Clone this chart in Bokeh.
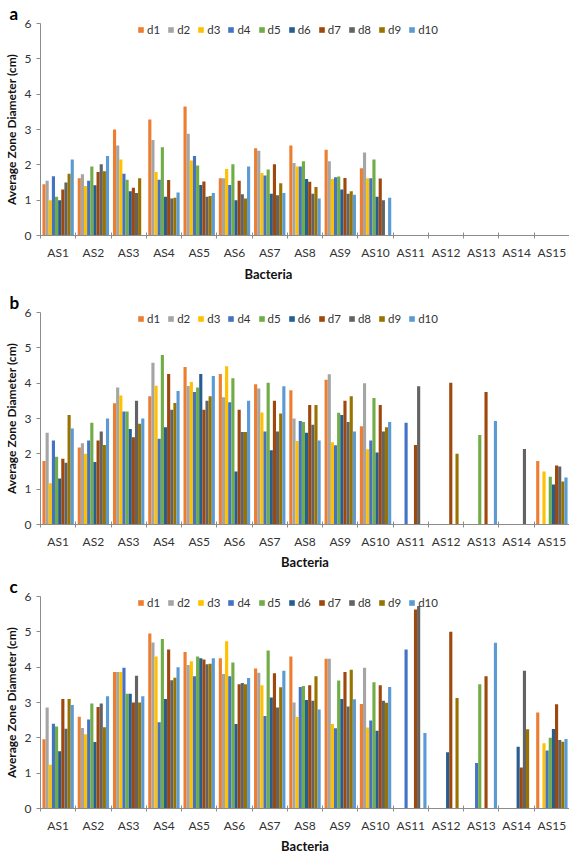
from bokeh.plotting import figure
from bokeh.models import Range1d, FixedTicker, ColumnDataSource, Legend, LegendItem, Title
from bokeh.transform import dodge
from bokeh.layouts import column
from bokeh.embed import file_html
from bokeh.resources import INLINE

CATEGORIES = ["AS1", "AS2", "AS3", "AS4", "AS5", "AS6", "AS7", "AS8",
              "AS9", "AS10", "AS11", "AS12", "AS13", "AS14", "AS15"]
SERIES = ["d1", "d2", "d3", "d4", "d5", "d6", "d7", "d8", "d9", "d10"]
COLORS = ["#ED7D31", "#A5A5A5", "#FFC000", "#4472C4", "#70AD47",
          "#255E91", "#9E480E", "#636363", "#997300", "#5B9BD5"]
Y_TICKS = [0, 1, 2, 3, 4, 5, 6]

# ---- panel a ----
A_D1 = [1.45, 1.62, 3.00, 3.28, 3.65, 1.62, 2.47, 2.55, 2.43, 1.90, 0, 0, 0, 0, 0]
A_D2 = [1.55, 1.73, 2.55, 2.70, 2.88, 1.62, 2.40, 2.05, 2.10, 2.35, 0, 0, 0, 0, 0]
A_D3 = [1.00, 1.40, 2.15, 1.80, 2.12, 1.88, 1.77, 1.95, 1.60, 1.62, 0, 0, 0, 0, 0]
A_D4 = [1.68, 1.55, 1.75, 1.58, 2.25, 1.43, 1.70, 1.95, 1.65, 1.62, 0, 0, 0, 0, 0]
A_D5 = [1.10, 1.95, 1.58, 2.50, 1.98, 2.02, 1.87, 2.10, 1.67, 2.15, 0, 0, 0, 0, 0]
A_D6 = [1.00, 1.42, 1.25, 1.10, 1.43, 1.00, 1.18, 1.60, 1.30, 1.10, 0, 0, 0, 0, 0]
A_D7 = [1.30, 1.80, 1.35, 1.57, 1.53, 1.55, 2.02, 1.52, 1.63, 1.61, 0, 0, 0, 0, 0]
A_D8 = [1.50, 2.02, 1.20, 1.05, 1.10, 1.17, 1.14, 1.18, 1.18, 1.00, 0, 0, 0, 0, 0]
A_D9 = [1.75, 1.82, 1.62, 1.07, 1.12, 1.05, 1.48, 1.37, 1.25, 0, 0, 0, 0, 0, 0]
A_D10 = [2.15, 2.25, 0, 1.22, 1.20, 1.95, 1.20, 1.05, 1.15, 1.07, 0, 0, 0, 0, 0]

# ---- panel b ----
B_D1 = [1.80, 2.18, 3.43, 3.63, 4.46, 4.26, 3.97, 3.80, 4.10, 2.78, 0, 0, 0, 0, 1.80]
B_D2 = [2.60, 2.30, 3.88, 4.58, 3.92, 3.60, 3.85, 3.00, 4.25, 4.00, 0, 0, 0, 0, 0]
B_D3 = [1.17, 2.00, 3.65, 3.93, 4.03, 4.48, 3.17, 2.36, 2.33, 2.13, 0, 0, 0, 0, 1.50]
B_D4 = [2.38, 2.38, 3.20, 2.43, 3.75, 3.46, 2.63, 2.93, 2.24, 2.38, 2.88, 0, 0, 0, 0]
B_D5 = [1.92, 2.88, 3.20, 4.80, 3.88, 4.14, 4.01, 2.90, 3.16, 3.58, 0, 0, 2.53, 0, 1.35]
B_D6 = [1.30, 1.77, 2.70, 2.75, 4.26, 1.50, 2.10, 2.60, 3.10, 2.04, 0, 0, 0, 0, 1.13]
B_D7 = [1.86, 2.38, 2.47, 4.26, 3.25, 3.25, 3.50, 3.38, 3.50, 3.38, 2.25, 4.01, 3.75, 0, 1.67]
B_D8 = [1.75, 2.63, 3.50, 3.25, 3.50, 2.62, 2.63, 2.82, 2.90, 2.63, 3.91, 0, 0, 2.14, 1.64]
B_D9 = [3.10, 2.25, 2.85, 3.44, 3.63, 2.62, 3.14, 3.38, 3.63, 2.75, 0, 2.00, 0, 0, 1.22]
B_D10 = [2.72, 3.00, 3.00, 3.78, 4.20, 3.50, 3.91, 2.38, 2.63, 2.90, 0, 0, 2.93, 0, 1.33]

# ---- panel c ----
C_D1 = [1.96, 2.60, 3.86, 4.95, 4.43, 4.25, 3.96, 4.30, 4.24, 2.96, 0, 0, 0, 0, 2.72]
C_D2 = [2.86, 2.28, 3.86, 4.70, 4.06, 3.81, 3.84, 3.00, 4.24, 3.98, 0, 0, 0, 0, 0]
C_D3 = [1.24, 2.10, 3.86, 4.30, 4.17, 4.73, 3.49, 2.59, 2.39, 2.29, 0, 0, 0, 0, 1.85]
C_D4 = [2.40, 2.52, 3.98, 2.44, 3.74, 3.74, 2.62, 3.44, 2.27, 2.49, 4.50, 0, 1.29, 0, 1.64]
C_D5 = [2.32, 2.97, 3.25, 4.80, 4.30, 4.13, 4.47, 3.47, 3.62, 3.57, 0, 0, 3.52, 0, 2.00]
C_D6 = [1.62, 1.88, 3.25, 3.10, 4.25, 2.39, 3.14, 3.07, 3.10, 2.20, 0, 1.59, 0, 1.75, 2.25]
C_D7 = [3.10, 2.87, 3.00, 4.50, 4.22, 3.52, 3.83, 3.49, 3.86, 3.49, 5.63, 5.00, 3.74, 1.16, 2.95]
C_D8 = [2.26, 2.97, 3.76, 3.63, 4.08, 3.55, 2.86, 3.05, 2.89, 3.05, 5.73, 0, 0, 3.90, 1.94]
C_D9 = [3.10, 2.30, 3.00, 3.70, 4.10, 3.52, 3.43, 3.74, 3.93, 2.99, 0, 3.13, 0, 2.24, 1.89]
C_D10 = [2.93, 3.18, 3.18, 4.00, 4.25, 3.69, 3.90, 2.80, 3.09, 3.44, 2.14, 0, 4.69, 0, 1.97]

PANEL_A = [A_D1, A_D2, A_D3, A_D4, A_D5, A_D6, A_D7, A_D8, A_D9, A_D10]
PANEL_B = [B_D1, B_D2, B_D3, B_D4, B_D5, B_D6, B_D7, B_D8, B_D9, B_D10]
PANEL_C = [C_D1, C_D2, C_D3, C_D4, C_D5, C_D6, C_D7, C_D8, C_D9, C_D10]

FONT = "Lato"
AXIS_COLOR = "#8c8c8c"
TEXT_COLOR = "#333333"
TITLE_COLOR = "#111111"
LEFT = 35
FRAME_W = 529
FRAME_H = 212
BAR_W = 0.089


def make_panel(letter, series_values, top, bottom, bacteria_offset):
    n = len(CATEGORIES)
    data = {"x": [i + 0.5 for i in range(n)]}
    for name, vals in zip(SERIES, series_values):
        data[name] = vals
    src = ColumnDataSource(data)

    p = figure(frame_width=FRAME_W, frame_height=FRAME_H,
               x_range=Range1d(0, n), y_range=Range1d(0, 6),
               output_backend="svg", toolbar_location=None,
               min_border_left=LEFT, min_border_right=0,
               min_border_top=top, min_border_bottom=bottom)
    p.outline_line_color = None
    p.xgrid.visible = False
    p.ygrid.visible = False
    p.background_fill_color = "white"

    items = []
    for j, (name, col) in enumerate(zip(SERIES, COLORS)):
        off = (j - 4.5) * BAR_W
        r = p.vbar(x=dodge("x", off, range=p.x_range), top=name, width=BAR_W,
                   bottom=0, source=src, fill_color=col, line_color=None)
        items.append(LegendItem(label=name, renderers=[r]))

    legend = Legend(items=items, orientation="horizontal",
                    location=(97, FRAME_H - 13),
                    glyph_width=7, glyph_height=7, label_standoff=3, spacing=7,
                    padding=0, margin=0, label_height=12, label_width=10,
                    background_fill_alpha=0, border_line_alpha=0,
                    label_text_font=FONT, label_text_font_size="11.5px",
                    label_text_color=TEXT_COLOR, label_text_baseline="middle")
    p.add_layout(legend)

    # panel letter
    p.add_layout(Title(text=letter, align="left", offset=-31, standoff=0,
                       text_font=FONT, text_font_size="17px", text_font_style="bold",
                       text_color="#000000"), "above")

    # x axis: labels at category centres, tick marks at category boundaries
    xa = p.xaxis[0]
    xa.ticker = FixedTicker(ticks=[i + 0.5 for i in range(n)], minor_ticks=list(range(n + 1)))
    xa.major_label_overrides = {i + 0.5: c for i, c in enumerate(CATEGORIES)}
    xa.major_tick_in = 0
    xa.major_tick_out = 0
    xa.minor_tick_in = 3
    xa.minor_tick_out = 3
    xa.minor_tick_line_color = AXIS_COLOR
    xa.axis_line_color = AXIS_COLOR
    xa.major_label_standoff = 6
    xa.major_label_text_font = FONT
    xa.major_label_text_font_size = "12px"
    xa.major_label_text_color = TEXT_COLOR
    if bacteria_offset is None:
        xa.axis_label = "Bacteria"
        xa.axis_label_standoff = 2
        xa.axis_label_text_font = FONT
        xa.axis_label_text_font_size = "13px"
        xa.axis_label_text_font_style = "bold"
        xa.axis_label_text_color = TITLE_COLOR
    else:
        p.add_layout(Title(text="Bacteria", align="left", offset=bacteria_offset, standoff=2,
                           text_font=FONT, text_font_size="13px", text_font_style="bold",
                           text_color=TITLE_COLOR), "below")

    ya = p.yaxis[0]
    ya.ticker = FixedTicker(ticks=Y_TICKS)
    ya.major_tick_in = 0
    ya.major_tick_out = 4
    ya.minor_tick_out = 0
    ya.minor_tick_in = 0
    ya.major_tick_line_color = AXIS_COLOR
    ya.axis_line_color = AXIS_COLOR
    ya.major_label_standoff = 5
    ya.major_label_text_font = FONT
    ya.major_label_text_font_size = "12px"
    ya.major_label_text_color = TEXT_COLOR
    ya.axis_label = "Average Zone Diameter (cm)"
    ya.axis_label_standoff = 3
    ya.axis_label_text_font = FONT
    ya.axis_label_text_font_size = "12px"
    ya.axis_label_text_font_style = "bold"
    ya.axis_label_text_color = TITLE_COLOR
    return p


pa = make_panel("a", PANEL_A, 22, 50, 204)
pb = make_panel("b", PANEL_B, 27, 46, None)
pc = make_panel("c", PANEL_C, 24, 44, None)

layout = column(pa, pb, pc, spacing=0)
open("out.html", "w").write(file_html(layout, INLINE))
